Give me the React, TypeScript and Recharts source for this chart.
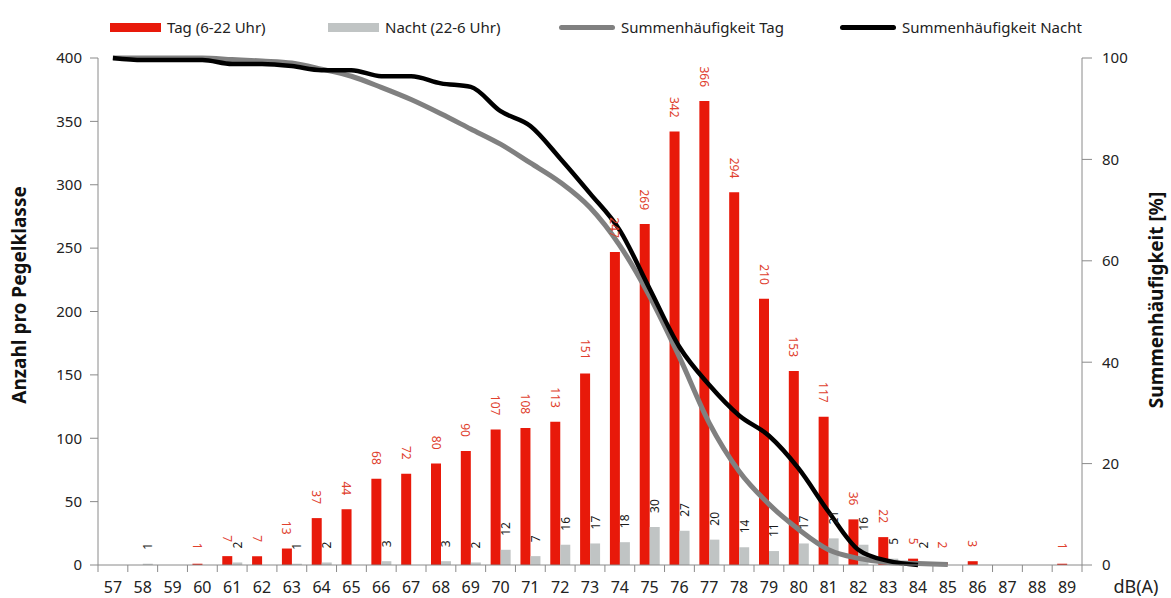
import React from "react";
import { ComposedChart, Bar, Line, XAxis, YAxis, LabelList, Legend } from "recharts";

// Pegelklassen in dB(A)
const levels = [
  "57", "58", "59", "60", "61", "62", "63", "64", "65", "66", "67",
  "68", "69", "70", "71", "72", "73", "74", "75", "76", "77", "78",
  "79", "80", "81", "82", "83", "84", "85", "86", "87", "88", "89",
];

// Anzahl pro Pegelklasse
const tagCounts = [
  0, 0, 0, 1, 7, 7, 13, 37, 44, 68, 72,
  80, 90, 107, 108, 113, 151, 247, 269, 342, 366, 294,
  210, 153, 117, 36, 22, 5, 2, 3, 0, 0, 1,
];
const nachtCounts = [
  0, 1, 0, 0, 2, 0, 1, 2, 0, 3, 0,
  3, 2, 12, 7, 16, 17, 18, 30, 27, 20, 14,
  11, 17, 21, 16, 5, 2, 0, 0, 0, 0, 0,
];

// Summenhäufigkeit in %
const summeTag = [
  100, 100, 100, 100, 99.7, 99.4, 99, 97.8, 96.4, 94.2, 91.8,
  89, 86, 83, 79.3, 75.5, 70.5, 63, 53, 41, 28, 18.5,
  12, 7, 3, 1.3, 0.5, 0.3, 0.1, null, null, null, null,
];
const summeNacht = [
  100, 99.6, 99.6, 99.6, 98.8, 98.8, 98.4, 97.6, 97.6, 96.4, 96.4,
  95, 94.3, 89.5, 86.6, 80.2, 73.3, 66, 54.5, 43, 35.5, 29.5,
  25.5, 19, 10.5, 3, 0.8, 0, null, null, null, null, null,
];

const leftTicks = [0, 50, 100, 150, 200, 250, 300, 350, 400];
const rightTicks = [0, 20, 40, 60, 80, 100];

const data = levels.map((level, i) => ({
  level,
  tag: tagCounts[i],
  nacht: nachtCounts[i],
  sumTag: summeTag[i],
  sumNacht: summeNacht[i],
}));

const FONT = "'Noto Sans', 'Open Sans', sans-serif";
const AXIS = "#8a8a8a";
const RED = "#E8190A";
const GREY = "#C0C4C4";

const RedLabel = (props: any) => {
  const { x, y, width, value } = props;
  if (!value) return null;
  const cx = x + width / 2;
  const ty = y - 14;
  return (
    <text x={cx} y={ty} transform={`rotate(90 ${cx} ${ty})`} textAnchor="end"
      dominantBaseline="central" fill="#E0412E" fontSize={12} fontFamily={FONT}>
      {value}
    </text>
  );
};

const BlackLabel = (props: any) => {
  const { x, y, width, value } = props;
  if (!value) return null;
  const cx = x + width / 2;
  const ty = y - 14;
  return (
    <text x={cx} y={ty} transform={`rotate(-90 ${cx} ${ty})`} textAnchor="start"
      dominantBaseline="central" fill="#1a1a1a" fontSize={12} fontFamily={FONT}>
      {value}
    </text>
  );
};

const XTick = (props: any) => {
  const { x, y, payload, index, visibleTicksCount } = props;
  const half = payload.offset ?? 14.9;
  return (
    <g>
      <line x1={x - half} x2={x - half} y1={y} y2={y + 7} stroke={AXIS} />
      {index === visibleTicksCount - 1 && (
        <line x1={x + half} x2={x + half} y1={y} y2={y + 7} stroke={AXIS} />
      )}
      <text x={x} y={y + 28} textAnchor="middle" fill="#222" fontSize={16} fontFamily={FONT}>
        {payload.value}
      </text>
    </g>
  );
};

const legendItems = [
  { label: "Tag (6-22 Uhr)", color: RED, kind: "bar", left: 110 },
  { label: "Nacht (22-6 Uhr)", color: GREY, kind: "bar", left: 328 },
  { label: "Summenhäufigkeit Tag", color: "#808080", kind: "line", left: 559 },
  { label: "Summenhäufigkeit Nacht", color: "#000", kind: "line", left: 840 },
];

const renderLegend = () => (
  <div style={{ position: "relative", width: 1171, height: 26, fontFamily: FONT, fontSize: 15, color: "#222" }}>
    {legendItems.map((it) => (
      <div key={it.label} style={{ position: "absolute", left: it.left, top: 0, height: 26, display: "flex", alignItems: "center" }}>
        <span style={{
          display: "inline-block",
          width: it.kind === "bar" ? 51 : 56,
          height: it.kind === "bar" ? 9 : 5,
          borderRadius: it.kind === "bar" ? 0 : 3,
          background: it.color,
          marginRight: 6,
        }} />
        <span>{it.label}</span>
      </div>
    ))}
  </div>
);

export default function App() {
  return (
    <div style={{ position: "absolute", left: 0, top: 0, width: 1171, height: 598, background: "#fff" }}>
      <ComposedChart
        width={1171}
        height={598}
        data={data}
        margin={{ top: 32, right: 29, bottom: 8, left: 38 }}
        barSize={10}
        barGap={0}
      >
        <Legend
          verticalAlign="top"
          content={renderLegend}
          wrapperStyle={{ top: 14, left: 0, width: 1171, height: 26 }}
        />
        <XAxis
          dataKey="level"
          interval={0}
          height={25}
          tickLine={false}
          tickSize={0}
          tickMargin={0}
          axisLine={{ stroke: AXIS }}
          tick={<XTick />}
          label={{
            content: () => (
              <text x={1136} y={593} textAnchor="middle" fill="#222" fontSize={18} fontFamily={FONT}>
                dB(A)
              </text>
            ),
          }}
        />
        <YAxis
          yAxisId="left"
          width={60}
          domain={[0, 400]}
          ticks={leftTicks}
          interval={0}
          tickSize={8}
          tickMargin={8}
          axisLine={{ stroke: AXIS }}
          tickLine={{ stroke: AXIS }}
          tick={{ fill: "#222", fontSize: 15, fontFamily: FONT }}
          label={{
            content: () => (
              <text x={19} y={295} transform="rotate(-90 19 295)" textAnchor="middle"
                dominantBaseline="central" fill="#111" fontSize={19} fontWeight="bold" fontFamily={FONT}>
                Anzahl pro Pegelklasse
              </text>
            ),
          }}
        />
        <YAxis
          yAxisId="right"
          orientation="right"
          width={60}
          domain={[0, 100]}
          ticks={rightTicks}
          interval={0}
          tickSize={10}
          tickMargin={10}
          axisLine={{ stroke: AXIS }}
          tickLine={{ stroke: AXIS }}
          tick={{ fill: "#222", fontSize: 15, fontFamily: FONT }}
          label={{
            content: () => (
              <text x={1156} y={300} transform="rotate(-90 1156 300)" textAnchor="middle"
                dominantBaseline="central" fill="#111" fontSize={19} fontWeight="bold" fontFamily={FONT}>
                Summenhäufigkeit [%]
              </text>
            ),
          }}
        />
        <Bar yAxisId="left" dataKey="tag" name="Tag (6-22 Uhr)" fill={RED} isAnimationActive={false}>
          <LabelList dataKey="tag" content={<RedLabel />} />
        </Bar>
        <Bar yAxisId="left" dataKey="nacht" name="Nacht (22-6 Uhr)" fill={GREY} isAnimationActive={false}>
          <LabelList dataKey="nacht" content={<BlackLabel />} />
        </Bar>
        <Line yAxisId="right" type="monotone" dataKey="sumTag" name="Summenhäufigkeit Tag"
          stroke="#808080" strokeWidth={5} dot={false} isAnimationActive={false} />
        <Line yAxisId="right" type="monotone" dataKey="sumNacht" name="Summenhäufigkeit Nacht"
          stroke="#000" strokeWidth={4.5} dot={false} isAnimationActive={false} />
      </ComposedChart>
    </div>
  );
}
